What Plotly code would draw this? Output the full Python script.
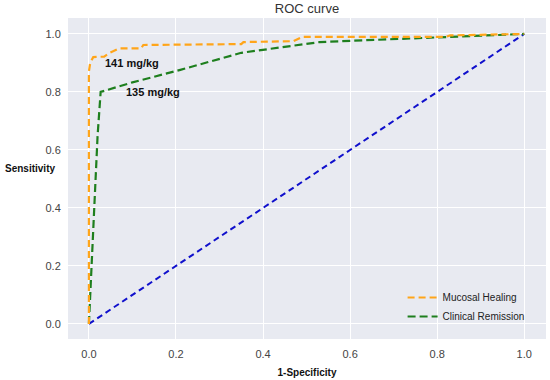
import plotly.graph_objects as go

mh_fpr = [0.0, 0.0, 0.003, 0.01, 0.035, 0.048, 0.07, 0.12, 0.125, 0.35, 0.355, 0.47, 0.49, 0.82, 0.83, 1.0]
mh_tpr = [0.0, 0.87, 0.9, 0.92, 0.922, 0.935, 0.95, 0.95, 0.962, 0.965, 0.972, 0.975, 0.99, 0.99, 0.995, 1.0]

cr_fpr = [0.0, 0.02, 0.027, 0.1, 0.21, 0.35, 0.53, 0.82, 1.0]
cr_tpr = [0.0, 0.65, 0.8, 0.833, 0.876, 0.935, 0.972, 0.99, 1.0]

ref_fpr = [0.0, 1.0]
ref_tpr = [0.0, 1.0]

ann_text = ["141 mg/kg", "135 mg/kg"]
ann_x = [0.099, 0.147]
ann_y = [0.9, 0.8]

FONT = "Arial, Liberation Sans, sans-serif"

fig = go.Figure()
fig.add_trace(go.Scatter(x=ref_fpr, y=ref_tpr, mode="lines", showlegend=False,
                         line=dict(color="#1010CC", width=2, dash="6px,4px")))
fig.add_trace(go.Scatter(x=cr_fpr, y=cr_tpr, mode="lines", name="Clinical Remission",
                         line=dict(color="#1E7F1E", width=2.2, dash="8px,4px")))
fig.add_trace(go.Scatter(x=mh_fpr, y=mh_tpr, mode="lines", name="Mucosal Healing",
                         line=dict(color="#FFA51A", width=2.2, dash="7px,4px")))

for t, x, y in zip(ann_text, ann_x, ann_y):
    fig.add_annotation(x=x, y=y, text="<b>" + t + "</b>", showarrow=False,
                       font=dict(family=FONT, size=11, color="#111"))

fig.add_annotation(x=-0.136, xref="paper", y=0.53, yref="paper", text="<b>Sensitivity</b>",
                   showarrow=False, xanchor="left", yanchor="middle",
                   font=dict(family=FONT, size=10, color="#111"))

fig.update_layout(
    width=550, height=380,
    margin=dict(l=68, r=4, t=18, b=41),
    paper_bgcolor="white",
    plot_bgcolor="#E8EAF1",
    font=dict(family=FONT, size=11, color="#444"),
    title=dict(text="ROC curve", x=0.5, xref="paper", y=0.978, yref="container",
               xanchor="center", yanchor="middle", font=dict(size=13, color="#333")),
    legend=dict(x=0.70, y=0.025, xanchor="left", yanchor="bottom",
                bgcolor="rgba(0,0,0,0)", font=dict(size=10, color="#222"),
                traceorder="reversed", tracegroupgap=0, itemwidth=30),
    xaxis=dict(range=[-0.048, 1.05], tickvals=[0, 0.2, 0.4, 0.6, 0.8, 1.0],
               ticktext=["0.0", "0.2", "0.4", "0.6", "0.8", "1.0"], automargin=False,
               ticks="outside", ticklen=5, tickcolor="rgba(0,0,0,0)",
               gridcolor="white", gridwidth=1.2, zeroline=False, showline=False,
               title=dict(text="<b>1-Specificity</b>", font=dict(size=10, color="#111"), standoff=9)),
    yaxis=dict(range=[-0.052, 1.055], tickvals=[0, 0.2, 0.4, 0.6, 0.8, 1.0],
               ticktext=["0.0", "0.2", "0.4", "0.6", "0.8", "1.0"], automargin=False,
               ticks="outside", ticklen=4, tickcolor="rgba(0,0,0,0)",
               gridcolor="white", gridwidth=1.2, zeroline=False, showline=False),
)

fig.write_html("out.html", post_script="document.body.style.margin='0';",
               config={"displayModeBar": False})
